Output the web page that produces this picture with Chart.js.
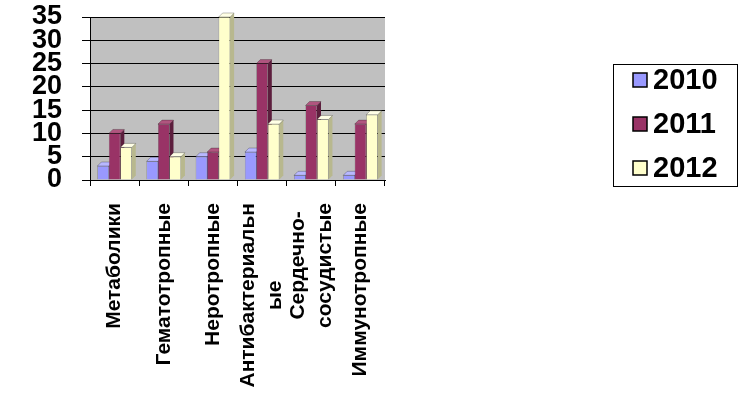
<!DOCTYPE html>
<html>
<head>
<meta charset="utf-8">
<script src="https://cdn.jsdelivr.net/npm/chart.js@4.4.0/dist/chart.umd.min.js"></script>
<style>
  html, body { margin: 0; padding: 0; background: #fff; }
  #wrap { width: 752px; height: 404px; }
</style>
</head>
<body>
<div id="wrap"><canvas id="chart" width="752" height="404"></canvas></div>
<script>
const categories = ['Метаболики', 'Гематотропные', 'Неротропные', ['Антибактериальн', 'ые'], ['Сердечно-', 'сосудистые'], 'Иммунотропные'];
const seriesNames = ['2010', '2011', '2012'];
const values2010 = [3, 4, 5, 6, 1, 1];
const values2011 = [10, 12, 6, 25, 16, 12];
const values2012 = [7, 5, 35, 12, 13, 14];
const yMax = 35;
const yStep = 5;

const fills = ['#9999FF', '#993366', '#FFFFCC'];
const sides = ['#5E5EB0', '#5C1E3D', '#B8B88E'];
const tops = ['#B8B8FF', '#B0557F', '#FFFFE6'];
const fontFamily = '"Liberation Sans", Arial, sans-serif';

// grey wall behind the bars
const wallPlugin = {
    id: 'wall',
    beforeDraw(chart) {
        const { ctx, chartArea: a } = chart;
        ctx.save();
        ctx.fillStyle = '#C0C0C0';
        ctx.fillRect(a.left, a.top, a.right - a.left, a.bottom - a.top);
        ctx.restore();
    }
};

// fake 3D: side and top faces, fronts are drawn by chart.js on top
const depthPlugin = {
    id: 'depth',
    beforeDatasetsDraw(chart) {
        const ctx = chart.ctx;
        const d = 4;
        ctx.save();
        chart.data.datasets.forEach((ds, i) => {
            chart.getDatasetMeta(i).data.forEach(bar => {
                const l = bar.x - bar.width / 2, r = bar.x + bar.width / 2;
                const y = bar.y, b = bar.base;
                ctx.fillStyle = sides[i];
                ctx.beginPath();
                ctx.moveTo(r, y); ctx.lineTo(r + d, y - d); ctx.lineTo(r + d, b - d); ctx.lineTo(r, b);
                ctx.closePath(); ctx.fill();
                ctx.fillStyle = tops[i];
                ctx.beginPath();
                ctx.moveTo(l, y); ctx.lineTo(l + d, y - d); ctx.lineTo(r + d, y - d); ctx.lineTo(r, y);
                ctx.closePath(); ctx.fill();
                ctx.strokeStyle = 'rgba(0,0,0,0.5)';
                ctx.lineWidth = 0.5;
                ctx.stroke();
            });
        });
        ctx.restore();
    }
};

// category labels, turned 90°, wrapped lines centred on each other and on the tick
const xLabelPlugin = {
    id: 'xLabels',
    afterDraw(chart) {
        const ctx = chart.ctx;
        const xScale = chart.scales.x;
        const lineGap = 27;
        const top = xScale.top + 23;
        ctx.save();
        ctx.font = 'bold 21px ' + fontFamily;
        ctx.fillStyle = '#000';
        ctx.textAlign = 'center';
        ctx.textBaseline = 'middle';
        categories.forEach((label, i) => {
            const lines = Array.isArray(label) ? label : [label];
            const maxW = Math.max(...lines.map(s => ctx.measureText(s).width));
            const cx = xScale.getPixelForValue(i);
            lines.forEach((line, j) => {
                const x = cx + (j - (lines.length - 1) / 2) * lineGap;
                ctx.save();
                ctx.translate(x, top + maxW / 2);
                ctx.rotate(-Math.PI / 2);
                ctx.fillText(line, 0, 0);
                ctx.restore();
            });
        });
        ctx.restore();
    }
};

const legendBoxPlugin = {
    id: 'legendBox',
    afterDraw(chart) {
        const ctx = chart.ctx;
        ctx.save();
        ctx.strokeStyle = '#000';
        ctx.lineWidth = 1;
        ctx.strokeRect(613.5, 64.5, 124, 122);
        ctx.font = 'bold 29px ' + fontFamily;
        ctx.textBaseline = 'middle';
        seriesNames.forEach((name, i) => {
            const cy = 80 + i * 44;
            ctx.fillStyle = fills[i];
            ctx.fillRect(633, cy - 7, 14, 14);
            ctx.strokeStyle = '#000';
            ctx.lineWidth = 1.5;
            ctx.strokeRect(633, cy - 7, 14, 14);
            ctx.fillStyle = '#000';
            ctx.fillText(name, 653, cy + 1);
        });
        ctx.restore();
    }
};

new Chart(document.getElementById('chart'), {
    type: 'bar',
    data: {
        labels: categories,
        datasets: [
            { label: seriesNames[0], data: values2010, backgroundColor: fills[0] },
            { label: seriesNames[1], data: values2011, backgroundColor: fills[1] },
            { label: seriesNames[2], data: values2012, backgroundColor: fills[2] }
        ]
    },
    options: {
        responsive: false,
        animation: false,
        layout: { padding: { left: 0, right: 367, top: 0, bottom: 0 } },
        datasets: {
            bar: { categoryPercentage: 0.7, barPercentage: 1, borderColor: 'rgba(0,0,0,0.55)', borderWidth: 0.5 }
        },
        plugins: {
            legend: { display: false },
            tooltip: { enabled: false }
        },
        scales: {
            x: {
                grid: { display: true, drawOnChartArea: false, offset: true, color: '#000', tickLength: 6 },
                border: { color: '#000', width: 1 },
                ticks: { display: false },
                afterFit(scale) { scale.height = 224; }
            },
            y: {
                min: 0, max: yMax,
                grid: { color: '#000', tickLength: 8 },
                border: { color: '#000', width: 1 },
                ticks: {
                    stepSize: yStep, autoSkip: false, color: '#000', padding: 20,
                    font: { family: fontFamily, size: 27, weight: 'bold', lineHeight: 1.2 }
                },
                afterFit(scale) {
                    scale.width = 90;
                    scale.paddingTop = 17;
                    scale.paddingBottom = 0;
                }
            }
        }
    },
    plugins: [wallPlugin, depthPlugin, xLabelPlugin, legendBoxPlugin]
});
</script>
</body>
</html>
